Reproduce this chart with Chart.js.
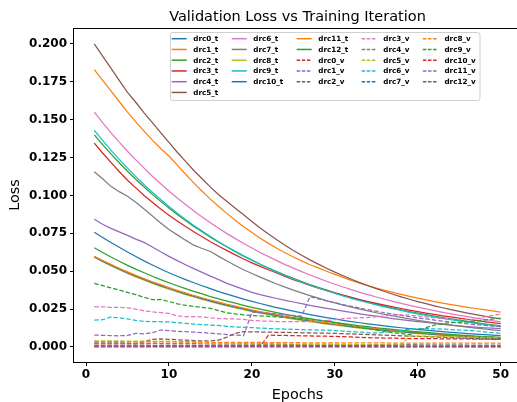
<!DOCTYPE html>
<html>
<head>
<meta charset="utf-8">
<script src="https://cdn.jsdelivr.net/npm/chart.js@4.4.1/dist/chart.umd.min.js"></script>
<style>
  html, body { margin: 0; padding: 0; overflow: hidden; background: #fff; }
  #wrap { width: 530px; height: 402px; }
</style>
</head>
<body>
<div id="wrap"><canvas id="lossChart" width="530" height="402"></canvas></div>
<script>
// epochs on the x axis
const epochs = [1,2,3,4,5,6,7,8,9,10,11,12,13,14,15,16,17,18,19,20,21,22,23,24,25,
  26,27,28,29,30,31,32,33,34,35,36,37,38,39,40,41,42,43,44,45,46,47,48,49,50];
const xTicks = [0, 10, 20, 30, 40, 50];
const yTicks = [0, 0.025, 0.05, 0.075, 0.1, 0.125, 0.15, 0.175, 0.2];

const seriesNames = ['drc0_t','drc1_t','drc2_t','drc3_t','drc4_t','drc5_t','drc6_t','drc7_t','drc8_t',
  'drc9_t','drc10_t','drc11_t','drc12_t','drc0_v','drc1_v','drc2_v','drc3_v','drc4_v','drc5_v',
  'drc6_v','drc7_v','drc8_v','drc9_v','drc10_v','drc11_v','drc12_v'];

// training losses
const drc0_t = [.0757,.0723,.0690,.0658,.0627,.0597,.0568,.0541,.0515,.0490,.0467,.0445,.0424,.0404,.0385,.0366,.0349,.0332,.0316,.0301,
  .0287,.0273,.0260,.0248,.0236,.0225,.0214,.0204,.0194,.0185,.0176,.0168,.0160,.0153,.0146,.0139,.0133,.0127,.0121,.0116,
  .0111,.0106,.0101,.0097,.0093,.0089,.0085,.0082,.0078,.0075];
const drc1_t = [.183,.176,.169,.162,.155,.1485,.1425,.1365,.131,.126,.120,.1140,.1083,.1028,.0976,.0927,.0880,.0836,.0794,.0755,
  .0718,.0684,.0652,.0622,.0594,.0568,.0543,.0522,.0500,.0479,.0459,.0440,.0422,.0405,.0389,.0374,.0360,.0347,.0334,.0322,
  .0311,.0300,.0290,.0280,.0271,.0262,.0254,.0246,.0238,.0230];
const drc2_t = [.140,.1336,.1274,.1216,.1160,.1107,.1056,.1007,.0961,.0917,.0875,.0834,.0796,.0760,.0725,.0691,.0660,.0629,.0600,.0573,
  .0546,.0521,.0497,.0474,.0453,.0432,.0412,.0393,.0375,.0358,.0341,.0326,.0311,.0296,.0283,.0270,.0257,.0245,.0234,.0223,
  .0213,.0203,.0194,.0185,.0177,.0169,.0161,.0153,.0146,.0140];
const drc3_t = [.1345,.1280,.1218,.1158,.1100,.1050,.1000,.0955,.0911,.0870,.0832,.0795,.0760,.0727,.0695,.0665,.0636,.0608,.0581,.0555,
  .0532,.0510,.0488,.0466,.0445,.0426,.0407,.0389,.0373,.0357,.0342,.0327,.0313,.0300,.0288,.0276,.0265,.0254,.0243,.0233,
  .0224,.0215,.0206,.0198,.0190,.0183,.0175,.0168,.0161,.0155];
const drc4_t = [.0843,.0810,.0783,.0760,.0737,.0712,.0690,.0660,.0628,.0598,.0570,.0543,.0517,.0492,.0468,.0445,.0420,.0400,.0380,.0361,
  .0345,.0332,.0320,.0308,.0297,.0286,.0275,.0265,.0255,.0246,.0237,.0228,.0219,.0211,.0203,.0195,.0188,.0181,.0174,.0168,
  .0162,.0156,.0150,.0145,.0140,.0135,.0131,.0127,.0124,.0121];
const drc5_t = [.200,.192,.184,.176,.168,.1615,.1545,.148,.1415,.135,.1285,.1225,.1165,.111,.1055,.1005,.096,.0915,.0872,.0828,
  .0785,.0745,.0707,.0671,.0637,.0605,.0575,.0547,.0520,.0494,.0470,.0447,.0425,.0404,.0385,.0366,.0348,.0331,.0315,.0300,
  .0286,.0272,.0259,.0247,.0235,.0224,.0213,.0203,.0194,.0185];
const drc6_t = [.155,.148,.1415,.1352,.1292,.1235,.118,.1127,.1077,.1029,.0983,.0940,.0898,.0858,.0820,.0783,.0748,.0715,.0683,.0653,
  .0624,.0596,.0570,.0544,.0520,.0497,.0475,.0454,.0434,.0414,.0396,.0378,.0361,.0345,.0330,.0315,.0301,.0288,.0275,.0263,
  .0251,.0240,.0229,.0219,.0209,.0200,.0191,.0182,.0174,.0166];
const drc7_t = [.1157,.111,.106,.1025,.0995,.0955,.091,.0865,.0818,.0775,.0740,.0705,.0672,.0650,.0630,.0598,.0567,.0538,.0510,.0485,
  .0461,.0438,.0416,.0395,.0375,.0357,.0339,.0322,.0306,.0291,.0277,.0263,.0250,.0238,.0226,.0215,.0205,.0195,.0185,.0176,
  .0168,.0160,.0152,.0145,.0138,.0131,.0125,.0119,.0113,.0108];
const drc8_t = [.0592,.0563,.0536,.0510,.0486,.0463,.0441,.0420,.0400,.0381,.0363,.0346,.0330,.0314,.0299,.0285,.0271,.0258,.0246,.0234,
  .0223,.0213,.0203,.0193,.0184,.0175,.0167,.0159,.0151,.0144,.0137,.0131,.0125,.0119,.0113,.0108,.0103,.0098,.0093,.0089,
  .0085,.0081,.0077,.0073,.0070,.0067,.0063,.0060,.0058,.0055];
const drc9_t = [.143,.1363,.1299,.1238,.1180,.1124,.1071,.1021,.0973,.0927,.0883,.0842,.0802,.0765,.0729,.0694,.0662,.0631,.0601,.0573,
  .0546,.0520,.0496,.0472,.0450,.0429,.0409,.0390,.0371,.0354,.0337,.0321,.0306,.0292,.0278,.0265,.0253,.0241,.0229,.0219,
  .0208,.0199,.0189,.0180,.0172,.0164,.0156,.0149,.0142,.0135];
const drc10_t = [.0595,.0567,.0540,.0515,.0491,.0468,.0446,.0425,.0405,.0386,.0368,.0351,.0335,.0319,.0304,.0290,.0276,.0263,.0251,.0239,
  .0228,.0218,.0208,.0198,.0189,.0180,.0172,.0164,.0156,.0149,.0142,.0135,.0129,.0123,.0117,.0112,.0107,.0102,.0097,.0092,
  .0088,.0084,.0080,.0076,.0073,.0069,.0066,.0063,.0060,.0057];
const drc11_t = [.0598,.0571,.0545,.0520,.0496,.0473,.0451,.0430,.0411,.0392,.0374,.0357,.0340,.0325,.0310,.0296,.0282,.0269,.0257,.0245,
  .0234,.0223,.0213,.0203,.0194,.0185,.0177,.0168,.0161,.0153,.0146,.0140,.0133,.0127,.0121,.0116,.0110,.0105,.0101,.0096,
  .0092,.0088,.0084,.0080,.0076,.0073,.0069,.0066,.0063,.0060];
const drc12_t = [.0655,.0624,.0594,.0566,.0539,.0514,.0490,.0467,.0445,.0424,.0404,.0385,.0367,.0350,.0333,.0318,.0303,.0289,.0275,.0262,
  .0250,.0238,.0227,.0216,.0206,.0196,.0187,.0178,.0170,.0162,.0154,.0147,.0140,.0134,.0127,.0121,.0116,.0110,.0105,.0100,
  .0096,.0091,.0087,.0083,.0079,.0075,.0072,.0069,.0066,.0063];

// validation losses
const drc0_v = [.0005,.0005,.0004,.0004,.0004,.0004,.0004,.0004,.0004,.0004,.0004,.0004,.0004,.0004,.0004,.0004,.0004,.0004,.0004,.0004,
  .0004,.0078,.0077,.0076,.0075,.0074,.0073,.0072,.0071,.0070,.0068,.0066,.0064,.0062,.0060,.0059,.0058,.0057,.0056,.0056,
  .0055,.0055,.0054,.0054,.0053,.0053,.0052,.0052,.0051,.0051];
const drc1_v = [.0079,.0077,.0075,.0074,.0076,.0090,.0087,.0095,.0112,.0108,.0104,.0101,.0098,.0095,.0091,.0087,.0082,.0078,.0075,.0230,
  .0226,.0222,.0218,.0213,.0208,.0203,.0332,.0318,.0305,.0292,.0280,.0268,.0257,.0246,.0236,.0226,.0217,.0208,.0200,.0192,
  .0185,.0178,.0171,.0165,.0159,.0153,.0148,.0143,.0138,.0134];
const drc2_v = [.0026,.0026,.0025,.0025,.0024,.0022,.0035,.0050,.0053,.0051,.0048,.0045,.0042,.0040,.0040,.0046,.0065,.0090,.0101,.0100,
  .0099,.0098,.0097,.0096,.0095,.0094,.0093,.0092,.0091,.0090,.0088,.0086,.0084,.0082,.0080,.0078,.0076,.0074,.0072,.0070,
  .0068,.0066,.0064,.0062,.0060,.0058,.0056,.0054,.0052,.0050];
const drc3_v = [.0266,.0265,.0262,.0262,.0258,.0250,.0238,.0232,.0227,.0222,.0205,.0200,.0200,.0198,.0192,.0188,.0186,.0185,.0183,.0175,
  .0172,.0170,.0168,.0167,.0167,.0167,.0168,.0170,.0175,.0180,.0187,.0190,.0192,.0195,.0200,.0205,.0210,.0212,.0210,.0205,
  .0198,.0192,.0188,.0185,.0182,.0180,.0185,.0198,.0208,.0216];
const drc4_v = [.0026,.0026,.0025,.0025,.0025,.0024,.0024,.0024,.0023,.0023,.0023,.0022,.0022,.0022,.0021,.0021,.0021,.0020,.0020,.0020,
  .0019,.0019,.0019,.0018,.0018,.0018,.0018,.0017,.0017,.0017,.0017,.0016,.0016,.0016,.0016,.0015,.0015,.0015,.0015,.0015,
  .0014,.0014,.0014,.0014,.0014,.0013,.0013,.0013,.0013,.0013];
const drc5_v = [.0041,.0041,.0040,.0040,.0039,.0039,.0038,.0038,.0037,.0037,.0036,.0036,.0035,.0024,.0023,.0023,.0022,.0022,.0021,.0021,
  .0020,.0020,.0019,.0019,.0018,.0018,.0018,.0017,.0017,.0016,.0016,.0016,.0015,.0015,.0014,.0014,.0014,.0013,.0073,.0072,
  .0071,.0070,.0069,.0068,.0066,.0065,.0064,.0063,.0062,.0061];
const drc6_v = [.0178,.0180,.0198,.0192,.0185,.0176,.0169,.0167,.0167,.0165,.0161,.0156,.0151,.0147,.0145,.0142,.0136,.0132,.0130,.0128,
  .0125,.0122,.0120,.0118,.0116,.0114,.0113,.0112,.0111,.0108,.0105,.0102,.0098,.0094,.0092,.0097,.0103,.0110,.0118,.0121,
  .0121,.0120,.0118,.0115,.0112,.0110,.0106,.0100,.0095,.0090];
const drc7_v = [.0006,.0006,.0006,.0006,.0006,.0005,.0005,.0005,.0005,.0005,.0005,.0005,.0005,.0005,.0005,.0005,.0005,.0004,.0004,.0004,
  .0004,.0004,.0004,.0004,.0004,.0004,.0004,.0004,.0004,.0004,.0004,.0004,.0004,.0003,.0003,.0003,.0003,.0003,.0003,.0003,
  .0003,.0003,.0003,.0003,.0003,.0003,.0003,.0003,.0003,.0003];
const drc8_v = [.0036,.0036,.0035,.0035,.0035,.0034,.0034,.0034,.0033,.0033,.0033,.0032,.0032,.0032,.0031,.0031,.0031,.0030,.0030,.0030,
  .0030,.0029,.0029,.0029,.0029,.0028,.0028,.0028,.0028,.0028,.0027,.0027,.0027,.0027,.0027,.0027,.0026,.0026,.0026,.0026,
  .0026,.0026,.0026,.0026,.0026,.0026,.0026,.0026,.0026,.0026];
const drc9_v = [.0420,.0405,.0390,.0376,.0360,.0345,.0328,.0312,.0314,.0300,.0285,.0275,.0268,.0262,.0255,.0240,.0225,.0218,.0212,.0208,
  .0205,.0202,.0198,.0195,.0192,.0188,.0183,.0178,.0170,.0160,.0150,.0138,.0128,.0120,.0112,.0103,.0095,.0088,.0082,.0105,
  .0128,.0145,.0155,.0160,.0163,.0167,.0172,.0178,.0184,.0190];
const drc10_v = [.0003,.0003,.0003,.0003,.0003,.0003,.0003,.0003,.0003,.0003,.0003,.0003,.0003,.0003,.0003,.0003,.0003,.0003,.0003,.0003,
  .0003,.0003,.0003,.0003,.0003,.0003,.0003,.0003,.0003,.0003,.0003,.0003,.0003,.0003,.0003,.0003,.0003,.0003,.0003,.0003,
  .0003,.0003,.0003,.0003,.0003,.0003,.0003,.0003,.0003,.0003];
const drc11_v = [.0001,.0001,.0001,.0001,.0001,.0001,.0001,.0001,.0001,.0001,.0001,.0001,.0001,.0001,.0001,.0001,.0001,.0001,.0001,.0001,
  .0001,.0001,.0001,.0001,.0001,.0001,.0001,.0001,.0001,.0001,.0001,.0001,.0001,.0001,.0001,.0001,.0001,.0001,.0001,.0001,
  .0001,.0001,.0001,.0001,.0001,.0001,.0001,.0001,.0001,.0001];
const drc12_v = [.0012,.0012,.0012,.0012,.0012,.0012,.0012,.0011,.0011,.0011,.0011,.0011,.0011,.0011,.0011,.0011,.0010,.0010,.0010,.0010,
  .0010,.0010,.0010,.0010,.0010,.0010,.0009,.0009,.0009,.0009,.0009,.0009,.0009,.0009,.0009,.0009,.0009,.0008,.0008,.0008,
  .0008,.0008,.0008,.0008,.0008,.0008,.0008,.0008,.0008,.0008];

const series = [drc0_t, drc1_t, drc2_t, drc3_t, drc4_t, drc5_t, drc6_t, drc7_t, drc8_t, drc9_t, drc10_t, drc11_t, drc12_t,
  drc0_v, drc1_v, drc2_v, drc3_v, drc4_v, drc5_v, drc6_v, drc7_v, drc8_v, drc9_v, drc10_v, drc11_v, drc12_v];

const palette = ['#1f77b4', '#ff7f0e', '#2ca02c', '#d62728', '#9467bd',
                 '#8c564b', '#e377c2', '#7f7f7f', '#bcbd22', '#17becf'];
const DASH = [4.5, 2];
const FONT = "'DejaVu Sans', 'Liberation Sans', sans-serif";

const datasets = series.map((vals, i) => ({
    label: seriesNames[i],
    data: vals.map((v, j) => ({ x: epochs[j], y: v })),
    borderColor: palette[i % 10],
    borderWidth: 1.25,
    borderDash: seriesNames[i].endsWith('_v') ? DASH : [],
    pointRadius: 0,
    fill: false,
    tension: 0,
    order: series.length - i
}));

// title, axis labels, frame and the 5-column legend (matplotlib style)
const decorations = {
    id: 'decorations',
    afterDraw(chart) {
        const { ctx, chartArea: a } = chart;
        ctx.save();

        ctx.strokeStyle = '#000';
        ctx.lineWidth = 1;
        ctx.setLineDash([]);
        ctx.strokeRect(Math.round(a.left) - 0.5, Math.round(a.top) + 0.5,
                       a.right - a.left, a.bottom - a.top);

        const cx = (a.left + a.right) / 2;
        ctx.fillStyle = '#000';
        ctx.textAlign = 'center';
        ctx.textBaseline = 'alphabetic';
        ctx.font = `14.5px ${FONT}`;
        ctx.fillText('Validation Loss vs Training Iteration', cx, 21);
        ctx.font = `14.4px ${FONT}`;
        ctx.fillText('Epochs', cx, 399);

        ctx.save();
        ctx.translate(19, (a.top + a.bottom) / 2);
        ctx.rotate(-Math.PI / 2);
        ctx.fillText('Loss', 0, 0);
        ctx.restore();

        // legend: 5 columns filled top-down, first column takes the extra entry
        const ds = chart.data.datasets;
        const ncol = 5;
        const base = Math.floor(ds.length / ncol), extra = ds.length % ncol;
        const lineLen = 15, textGap = 6.6, colGap = 13.4;
        const box = { x: 170, y: 32, w: 309.5, h: 68 };
        ctx.fillStyle = 'rgba(255,255,255,0.8)';
        ctx.strokeStyle = '#d0d0d0';
        ctx.beginPath();
        ctx.roundRect(box.x + 0.5, box.y + 0.5, box.w, box.h, 2.5);
        ctx.fill();
        ctx.stroke();

        ctx.font = `bold 7.2px ${FONT}`;
        ctx.textAlign = 'left';
        ctx.textBaseline = 'middle';
        let colX = 171.7, k = 0;
        for (let c = 0; c < ncol; c++) {
            const n = base + (c < extra ? 1 : 0);
            let maxW = 0;
            for (let r = 0; r < n; r++, k++) {
                const y = 38.7 + r * 10.75;
                ctx.strokeStyle = ds[k].borderColor;
                ctx.lineWidth = 1.5;
                ctx.setLineDash(ds[k].borderDash.length ? [3.5, 1.6] : []);
                ctx.beginPath();
                ctx.moveTo(colX, y);
                ctx.lineTo(colX + lineLen, y);
                ctx.stroke();
                ctx.fillStyle = '#000';
                ctx.fillText(ds[k].label, colX + lineLen + textGap, y + 0.5);
                maxW = Math.max(maxW, ctx.measureText(ds[k].label).width);
            }
            colX += lineLen + textGap + maxW + colGap;
        }
        ctx.restore();
    }
};

const tickFont = { family: FONT, size: 12, weight: 'bold' };

new Chart(document.getElementById('lossChart'), {
    type: 'line',
    data: { datasets },
    options: {
        responsive: false,
        animation: false,
        devicePixelRatio: 1,
        layout: { padding: { top: 28, right: 9, left: 0, bottom: 0 } },
        plugins: {
            legend: { display: false },
            title: { display: false },
            tooltip: { enabled: false }
        },
        scales: {
            x: {
                type: 'linear',
                min: -1.45,
                max: 52.45,
                afterBuildTicks: s => { s.ticks = xTicks.map(v => ({ value: v })); },
                afterFit: s => { s.height = 40; },
                grid: { drawOnChartArea: false, drawTicks: true, tickLength: 4, color: '#000' },
                border: { display: false },
                ticks: { color: '#000', font: tickFont, padding: 2, maxRotation: 0 }
            },
            y: {
                type: 'linear',
                min: -0.0099,
                max: 0.2105,
                afterBuildTicks: s => { s.ticks = yTicks.map(v => ({ value: v })); },
                afterFit: s => { s.width = 74; },
                grid: { drawOnChartArea: false, drawTicks: true, tickLength: 4, color: '#000' },
                border: { display: false },
                ticks: { color: '#000', font: tickFont, padding: 3, callback: v => v.toFixed(3) }
            }
        }
    },
    plugins: [decorations]
});
</script>
</body>
</html>
